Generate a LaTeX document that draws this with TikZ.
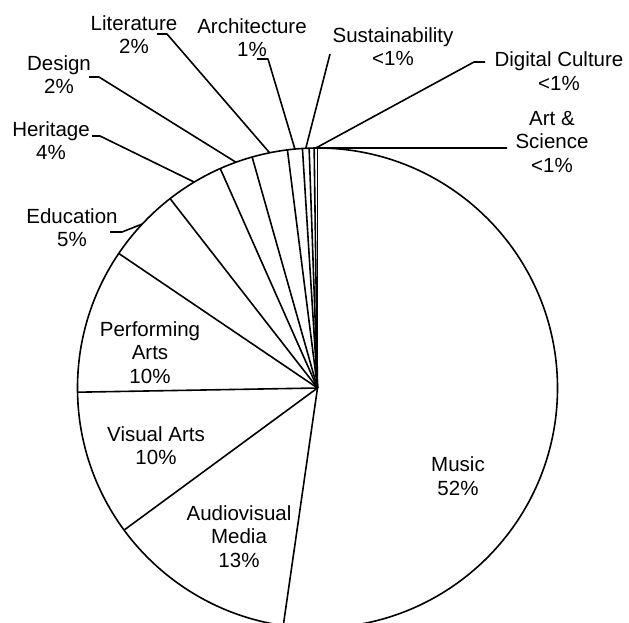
\documentclass[tikz,border=0pt]{standalone}
\usepackage{fontspec}
\setmainfont{Liberation Sans}
\begin{document}
\begin{tikzpicture}[x=1pt,y=-1pt,
  lbl/.style={font=\fontsize{20.5}{23.5}\selectfont, align=center, inner sep=0pt, anchor=north},
  edge/.style={line width=1.6pt},
  lead/.style={line width=1.6pt, line join=round}]
\useasboundingbox (0,0) rectangle (629,622);
\begin{scope}
\clip (0,0) rectangle (629,622);
\coordinate (c) at (317.5,388);
% slice boundaries
\foreach \a in {90,-98.2,-143.7,-179,-214.1,-232.1,-246.1,-254.2,-262.8,-266.4,-268,-269.2}
  \draw[edge] (c) -- ++(\a:240pt);
\draw[edge] (c) circle[radius=240pt];
\end{scope}
% leader end points on the arc
\path (c) ++(101.5:240pt) coordinate (eLit);
\path (c) ++(95.4:240pt) coordinate (eArch);
\path (c) ++(109.85:240pt) coordinate (eDes);
\path (c) ++(120.9:240pt) coordinate (eHer);
\path (c) ++(136.9:240pt) coordinate (eEdu);
\path (c) ++(92.8:240pt) coordinate (eSus);
\path (c) ++(90.4:240pt) coordinate (eDig);
\path (c) ++(90.1:240pt) coordinate (eArt);
% labels
\node[lbl] (music) at (458,456.7) {Music\\52\%};
\node[lbl] (av) at (239,505) {Audiovisual\\Media\\13\%};
\node[lbl] (va) at (156,426) {Visual Arts\\10\%};
\node[lbl] (pa) at (150,321) {Performing\\Arts\\10\%};
\node[lbl] (edu) at (72,208) {Education\\5\%};
\node[lbl] (her) at (51,121) {Heritage\\4\%};
\node[lbl] (des) at (59,55) {Design\\2\%};
\node[lbl] (lit) at (134,15) {Literature\\2\%};
\node[lbl] (arch) at (252,18) {Architecture\\1\%};
\node[lbl] (sus) at (393,27.3) {Sustainability\\<1\%};
\node[lbl] (dig) at (559,51.7) {Digital Culture\\<1\%};
\node[lbl] (art) at (552,111) {Art \&\\Science\\<1\%};
% leader start points
\coordinate (sLit) at (157,34);
\coordinate (sArch) at (257,59);
\coordinate (sDes) at (89,77);
\coordinate (sHer) at (92,136);
\coordinate (sEdu) at (110,232);
\coordinate (sSus) at (330,54);
\coordinate (sDig) at (485,62);
\coordinate (sArt) at (507,148);
% leaders
\draw[lead] (sLit) -- ++(10,0) -- (eLit);
\draw[lead] (sArch) -- ++(11,0) -- (eArch);
\draw[lead] (sDes) -- ++(10,0) -- (eDes);
\draw[lead] (sHer) -- ++(8,0) -- (eHer);
\draw[lead] (sEdu) -- ++(12,0) -- (eEdu);
\draw[lead] (sSus) -- (eSus);
\draw[lead] (sDig) -- ++(-11,0) -- (eDig);
\draw[lead] (sArt) -- (eArt);
\end{tikzpicture}
\end{document}
